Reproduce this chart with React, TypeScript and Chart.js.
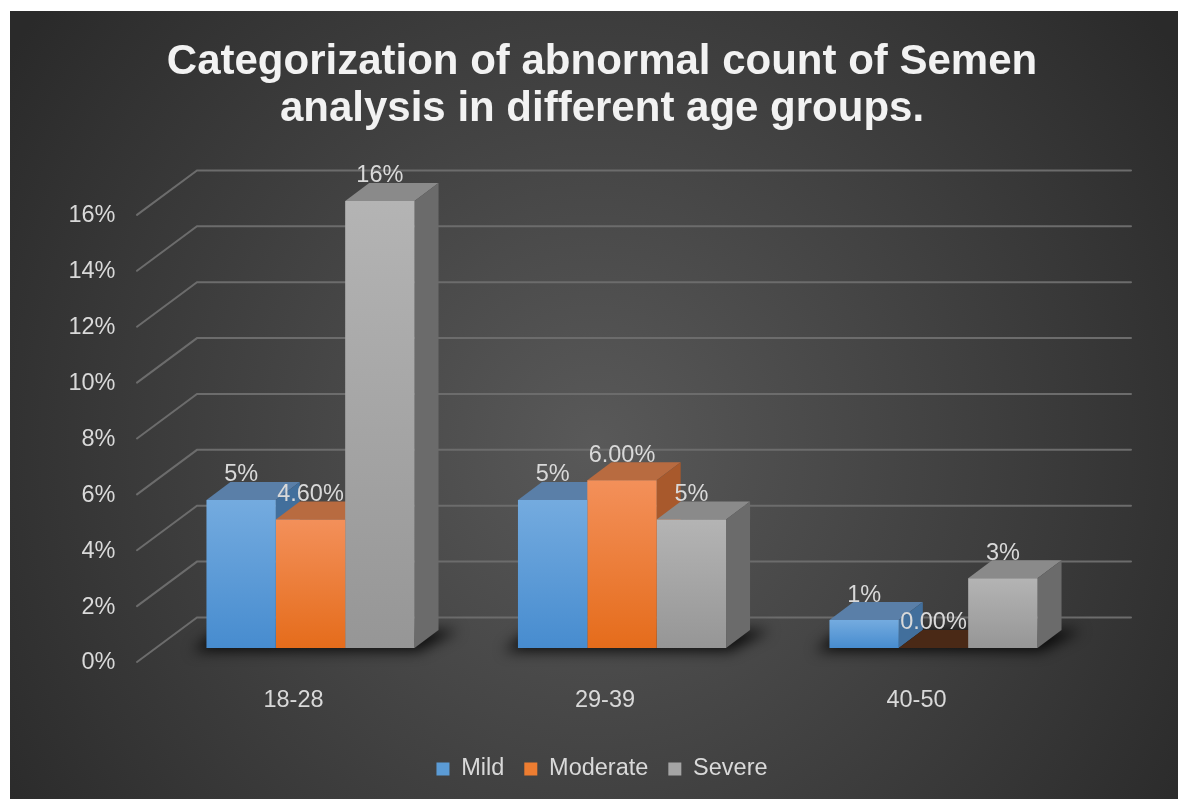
import React, { useEffect, useRef } from 'react';
import { Chart, registerables } from 'chart.js';

Chart.register(...registerables);

// ---------- data ----------
const categories = ['18-28', '29-39', '40-50'];
const seriesNames = ['Mild', 'Moderate', 'Severe'];
const mildValues = [5.3, 5.3, 1.0];
const moderateValues = [4.6, 6.0, 0];
const severeValues = [16, 4.6, 2.5];
const yMin = 0;
const yMax = 16;
const yStep = 2;
const titleLines = ['Categorization of abnormal count of Semen', 'analysis in different age groups.'];

// ---------- styles ----------
const FONT = "'Liberation Sans', Arial, Helvetica, sans-serif";
const TEXT = '#d9d9d9';
const W = 1168;
const H = 788;
const DX = 24; // bar depth offset
const DY = -18;
const frontTop = ['#74abdf', '#f3905a', '#b4b4b4'];
const frontBottom = ['#478ccf', '#e56c1b', '#969696'];
const topFace = ['#5a7fa8', '#b86b40', '#8a8a8a'];
const sideFace = ['#426f9c', '#a8592c', '#6b6b6b'];
const zeroTopFace = ['#2c3f55', '#4a2916', '#454545'];
const legendColors = ['#5b9bd5', '#ed7d31', '#a5a5a5'];
const decimals = [0, 2, 0];

const fmt = (v: number, d: number) => (d === 0 ? Math.round(v) + '%' : v.toFixed(d) + '%');

const frontGradient = (i: number) => (ctx: any) => {
  const chart = ctx.chart;
  if (!chart.chartArea || ctx.type !== 'data' || !chart.scales.y) return frontBottom[i];
  const ys = chart.scales.y;
  const yTop = ys.getPixelForValue(ctx.raw);
  const yBase = ys.getPixelForValue(0);
  if (yBase - yTop < 1) return frontBottom[i];
  const g = chart.ctx.createLinearGradient(0, yTop, 0, yBase);
  g.addColorStop(0, frontTop[i]);
  g.addColorStop(1, frontBottom[i]);
  return g;
};

const bar3dPlugin = {
  id: 'bar3d',
  beforeDatasetsDraw(chart: any) {
    const { ctx, chartArea } = chart;
    const ys = chart.scales.y;
    const xFront = chartArea.left - 17.75;
    const xWall = chartArea.left + 42.25;
    const xEnd = chartArea.right + 41.75;
    ctx.save();
    ctx.strokeStyle = '#6c6c6c';
    ctx.lineWidth = 2;
    ctx.lineCap = 'round';
    ys.ticks.forEach((t: any) => {
      const yp = ys.getPixelForValue(t.value);
      ctx.beginPath();
      ctx.moveTo(xFront, yp + 14);
      ctx.lineTo(xWall, yp - 30.5);
      ctx.lineTo(xEnd, yp - 30.5);
      ctx.stroke();
    });
    ctx.restore();

    const metas = [0, 1, 2].map((i) => chart.getDatasetMeta(i));

    // floor shadows
    categories.forEach((_, j) => {
      const first = metas[0].data[j];
      const last = metas[2].data[j];
      if (!first || !last) return;
      const left = first.x - first.width / 2;
      const right = last.x + last.width / 2;
      const base = first.base;
      ctx.save();
      ctx.filter = 'blur(7px)';
      ctx.fillStyle = 'rgba(0,0,0,0.85)';
      ctx.beginPath();
      ctx.moveTo(left - 14, base + 3);
      ctx.lineTo(right + 4, base + 3);
      ctx.lineTo(right + DX + 20, base + DY);
      ctx.lineTo(left + DX - 12, base + DY);
      ctx.closePath();
      ctx.fill();
      ctx.restore();
    });

    // top and side faces, left to right (front faces are drawn by Chart.js afterwards)
    categories.forEach((_, j) => {
      metas.forEach((meta: any, i: number) => {
        const bar = meta.data[j];
        if (!bar) return;
        const value = chart.data.datasets[i].data[j];
        const { x, y, base, width } = bar.getProps(['x', 'y', 'base', 'width'], true);
        const l = x - width / 2;
        const r = x + width / 2;
        ctx.save();
        ctx.fillStyle = value === 0 ? zeroTopFace[i] : topFace[i];
        ctx.beginPath();
        ctx.moveTo(l, y);
        ctx.lineTo(r, y);
        ctx.lineTo(r + DX, y + DY);
        ctx.lineTo(l + DX, y + DY);
        ctx.closePath();
        ctx.fill();
        if (base - y > 0.5) {
          ctx.fillStyle = sideFace[i];
          ctx.beginPath();
          ctx.moveTo(r, y);
          ctx.lineTo(r + DX, y + DY);
          ctx.lineTo(r + DX, base + DY);
          ctx.lineTo(r, base);
          ctx.closePath();
          ctx.fill();
        }
        ctx.restore();
      });
    });
  },
  afterDatasetsDraw(chart: any) {
    const { ctx } = chart;
    ctx.save();
    ctx.fillStyle = TEXT;
    ctx.font = `23.5px ${FONT}`;
    ctx.textAlign = 'center';
    ctx.textBaseline = 'middle';
    chart.data.datasets.forEach((ds: any, i: number) => {
      const meta = chart.getDatasetMeta(i);
      meta.data.forEach((bar: any, j: number) => {
        const { x, y } = bar.getProps(['x', 'y'], true);
        ctx.fillText(fmt(ds.data[j], decimals[i]), x, y - 25);
      });
    });
    ctx.restore();
  },
};

export default function App() {
  const ref = useRef<HTMLCanvasElement | null>(null);

  useEffect(() => {
    if (!ref.current) return;
    Chart.defaults.font.family = FONT;
    Chart.defaults.color = TEXT;
    const seriesData = [mildValues, moderateValues, severeValues];
    const chart = new Chart(ref.current, {
      type: 'bar',
      data: {
        labels: categories,
        datasets: seriesNames.map((name, i) => ({
          label: name,
          data: seriesData[i],
          backgroundColor: frontGradient(i),
          borderWidth: 0,
          categoryPercentage: 0.668,
          barPercentage: 1,
        })),
      },
      options: {
        responsive: false,
        animation: false,
        events: [],
        layout: { padding: { left: 16, right: 0, top: 0, bottom: 8.25 } },
        scales: {
          x: {
            grid: { display: false, drawTicks: false },
            border: { display: false },
            ticks: {
              color: TEXT,
              font: { size: 23.5, family: FONT },
              padding: 38.3,
              labelOffset: -17,
            },
            afterFit: (s: any) => {
              s.height = 89.25;
            },
          },
          y: {
            min: yMin,
            max: yMax,
            grid: { display: false, drawTicks: false },
            border: { display: false },
            ticks: {
              stepSize: yStep,
              color: TEXT,
              font: { size: 23.5, family: FONT },
              padding: 39.25,
              labelOffset: 15,
              callback: (v: any) => v + '%',
            },
            afterFit: (s: any) => {
              s.width = 128.75;
            },
          },
          yr: {
            type: 'linear',
            position: 'right',
            display: true,
            grid: { display: false, drawTicks: false },
            border: { display: false },
            ticks: { display: false },
            afterFit: (s: any) => {
              s.width = 88.75;
            },
          },
        },
        plugins: {
          title: {
            display: true,
            text: titleLines,
            color: '#f2f2f2',
            font: { size: 42, weight: 'bold', family: FONT, lineHeight: 1.13 },
            padding: { top: 27.3, bottom: 67.7 },
          },
          legend: {
            display: true,
            position: 'bottom',
            labels: {
              color: TEXT,
              font: { size: 23.5, family: FONT },
              boxWidth: 13,
              boxHeight: 13,
              padding: 20,
              generateLabels: (c: any) =>
                c.data.datasets.map((ds: any, i: number) => ({
                  text: ds.label,
                  fillStyle: legendColors[i],
                  strokeStyle: legendColors[i],
                  lineWidth: 0,
                  fontColor: TEXT,
                  hidden: false,
                  datasetIndex: i,
                })),
            },
          },
          tooltip: { enabled: false },
        },
      },
      plugins: [bar3dPlugin],
    } as any);
    return () => chart.destroy();
  }, []);

  return (
    <div
      style={{
        position: 'absolute',
        left: 10,
        top: 11,
        width: W,
        height: H,
        background: 'radial-gradient(ellipse 60% 90% at 50% 55%, #595959 0%, #2a2a2a 100%)',
      }}
    >
      <canvas ref={ref} width={W} height={H} style={{ display: 'block' }} />
    </div>
  );
}
